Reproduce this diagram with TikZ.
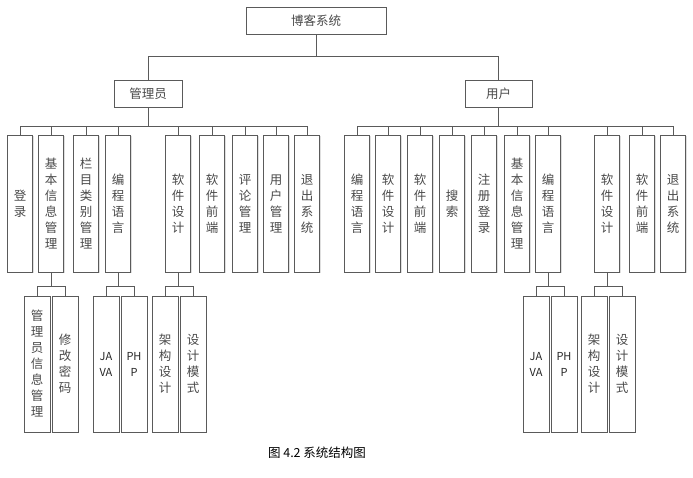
\documentclass[tikz,border=0pt]{standalone}
\usepackage{fontspec}
\newfontfamily\cjk{Noto Sans CJK SC}
\usepackage{tikz}
\usetikzlibrary{shadows}
\usepackage{xcolor}
\definecolor{boxline}{HTML}{5A5A5A}
\definecolor{boxtext}{HTML}{4A4A4A}
\definecolor{treeline}{HTML}{5A5A5A}

\tikzset{
    box/.style={draw=boxline, line width=0.8pt, fill=white, inner sep=0pt,
                align=center, text=boxtext, font=\cjk\fontsize{12.5}{16}\selectfont,
                drop shadow={opacity=0.25, shadow xshift=1pt, shadow yshift=-1pt}},
    topbox/.style={box, minimum height=27pt},
    colbox/.style={box, minimum width=25pt, minimum height=137pt},
    subbox/.style={box, minimum width=26pt, minimum height=136pt},
    latin/.style={font=\cjk\fontsize{11}{16}\selectfont, text=black!85},
    link/.style={draw=treeline, line width=0.8pt},
}

\begin{document}
\begin{tikzpicture}[x=1pt, y=-1pt]
    \useasboundingbox (0,0) rectangle (693,478);

    % Top levels
    \node[topbox, minimum width=140pt] (root) at (316,20.5) {博客系统};
    \node[topbox, minimum width=68pt] (admin) at (148,93.5) {管理员};
    \node[topbox, minimum width=67pt] (user) at (498.5,93.5) {用户};
    \draw[link] (root.south) -- ++(0,22) -| (admin.north);
    \draw[link] (root.south) -- ++(0,22) -| (user.north);

    % Admin modules
    \foreach \x/\t [count=\i] in {20/{登\\录}, 51/{基\\本\\信\\息\\管\\理},
        86/{栏\\目\\类\\别\\管\\理}, 118/{编\\程\\语\\言}, 178/{软\\件\\设\\计},
        212/{软\\件\\前\\端}, 245/{评\\论\\管\\理}, 276/{用\\户\\管\\理},
        307/{退\\出\\系\\统}} {
        \node[colbox] (a\i) at (\x,203.5) {\t};
        \draw[link] (admin.south) -- ++(0,19) -| (a\i.north);
    }

    % User modules
    \foreach \x/\t [count=\i] in {357/{编\\程\\语\\言}, 388/{软\\件\\设\\计},
        420/{软\\件\\前\\端}, 452/{搜\\索}, 484/{注\\册\\登\\录},
        517/{基\\本\\信\\息\\管\\理}, 548/{编\\程\\语\\言}, 607/{软\\件\\设\\计},
        642/{软\\件\\前\\端}, 673/{退\\出\\系\\统}} {
        \node[colbox] (u\i) at (\x,203.5) {\t};
        \draw[link] (user.south) -- ++(0,19) -| (u\i.north);
    }

    % Third level
    \foreach \p/\c/\x/\t in {a2/aa1/37/{管\\理\\员\\信\\息\\管\\理}, a2/aa2/65/{修\\改\\密\\码},
        a5/ac1/165/{架\\构\\设\\计}, a5/ac2/193/{设\\计\\模\\式},
        u8/ub1/594/{架\\构\\设\\计}, u8/ub2/622/{设\\计\\模\\式}} {
        \node[subbox] (\c) at (\x,364) {\t};
        \draw[link] (\p.south) -- ++(0,14) -| (\c.north);
    }
    \foreach \p/\c/\x/\t in {a4/ab1/106/{JA\\VA}, a4/ab2/134/{PH\\P},
        u7/ua1/536/{JA\\VA}, u7/ua2/564/{PH\\P}} {
        \node[subbox, latin] (\c) at (\x,364) {\t};
        \draw[link] (\p.south) -- ++(0,14) -| (\c.north);
    }

    % Caption
    \node[font=\cjk\fontsize{12.5}{15}\selectfont] (caption) at (317,453) {图 4.2 系统结构图};
\end{tikzpicture}
\end{document}
